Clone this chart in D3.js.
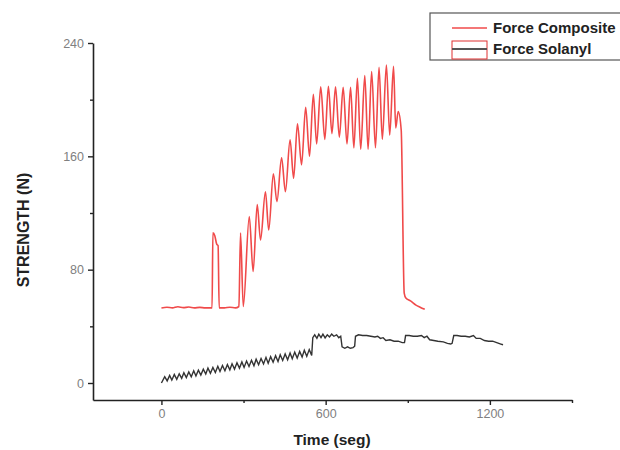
<!DOCTYPE html>
<html>
<head>
<meta charset="utf-8">
<script src="https://cdn.jsdelivr.net/npm/d3@7"></script>
<style>
  body { margin: 0; background: #fff; }
  svg { display: block; font-family: "Liberation Sans", Arial, sans-serif; }
</style>
</head>
<body>
<div id="chart"></div>
<script>
// Force Composite (time s, force N)
const compositeTime = [0, 20, 40, 60, 80, 100, 120, 140, 160, 185, 188, 195, 202, 207, 211, 230, 250, 270, 283,
  289, 299, 321, 335, 350, 362, 380, 392, 409, 422, 439, 453, 470, 483, 497, 512, 527, 541, 555, 567,
  582, 597, 610, 623, 636, 650, 664, 678, 691, 703, 716, 728, 743, 755, 768, 782, 795, 807, 822, 834,
  848, 856, 865, 876, 887, 893, 910, 930, 945, 962];
const compositeForce = [53, 53.5, 53, 53.8, 53.2, 53.6, 53, 53.4, 53, 53, 106, 104, 98, 97, 53, 53, 53.5, 53, 54,
  105.8, 54, 117.5, 78.7, 126, 101, 135, 108, 147.6, 128, 159, 135, 171.6, 144.5, 183, 154, 194.6, 160, 203.8, 168.8,
  209, 172, 209.5, 176, 209, 173.5, 208.7, 168.8, 208.7, 166, 215, 165, 217, 165, 219.8, 166, 222.8, 172, 224.5, 175,
  223.5, 180, 191.6, 178.6, 63.5, 60, 58, 55, 53.5, 52];

// Force Solanyl (time s, force N)
const solanylTime = [0, 12, 21, 30, 38, 47, 56, 65, 74, 82, 91, 100, 109, 118, 126, 135, 144, 153, 162, 170, 179,
  188, 197, 206, 214, 223, 232, 241, 250, 258, 267, 276, 285, 294, 302, 311, 320, 329, 338, 346, 355,
  364, 373, 382, 390, 399, 408, 417, 426, 434, 443, 452, 461, 470, 478, 487, 496, 505, 514, 522, 531,
  540, 549, 553, 560, 568, 575, 583, 590, 598, 606, 614, 622, 630, 640, 648, 655, 660, 670, 680, 690,
  700, 706, 709, 720, 735, 750, 765, 780, 790, 800, 810, 820, 835, 850, 865, 880, 888, 892, 905, 920,
  935, 950, 960, 970, 980, 995, 1010, 1030, 1045, 1057, 1062, 1068, 1080, 1095, 1110, 1125, 1140, 1150,
  1165, 1180, 1195, 1210, 1225, 1240, 1248];
const solanylForce = [0, 4.5, 1.5, 5.3, 2.0, 6.0, 2.6, 6.5, 3.3, 7.3, 3.8, 7.8, 4.4, 8.6, 5.0, 9.1, 5.6, 9.8, 6.3, 10.5, 6.9,
  11.0, 7.4, 11.8, 8.1, 12.3, 8.6, 13.0, 9.3, 13.6, 9.8, 14.3, 10.5, 14.9, 11.0, 15.5, 11.7, 16.1, 12.2, 16.8, 12.9,
  17.3, 13.5, 18.1, 14.0, 18.6, 14.7, 19.3, 15.2, 19.9, 15.9, 20.5, 16.4, 21.2, 17.1, 21.8, 17.6, 22.3, 18.3, 23.1, 18.8,
  23.6, 19.5, 32, 34, 31.5, 34.5, 32, 34.5, 31.8, 34, 32.5, 34.5, 33, 34, 32, 33, 25.5, 24.5, 25.5, 24.5,
  25, 26, 33, 34, 33.5, 33.5, 33, 32.5, 33, 31.5, 32, 30, 30.5, 29.5, 29.5, 28.5, 28.5, 33.5, 33.5, 33,
  33, 33.5, 32, 33, 30.5, 30, 29.5, 29, 28, 27.5, 28, 33.5, 33.5, 33, 33, 32.5, 33.5, 31.5,
  31.5, 30, 29.5, 29.5, 28.5, 27.5, 27];

const xMajor = [0, 600, 1200];
const xMinor = [300, 900, 1500];
const yMajor = [0, 80, 160, 240];
const yMinor = [40, 120, 200];
const seriesNames = ["Force Composite", "Force Solanyl"];

const width = 620, height = 450;
const svg = d3.select("#chart").append("svg")
  .attr("width", width)
  .attr("height", height);

const x = d3.scaleLinear().domain([-250, 1500]).range([93, 572]);
const y = d3.scaleLinear().domain([-12, 240]).range([400, 43]);

// axes
svg.append("g").attr("transform", "translate(93,0)")
  .call(d3.axisLeft(y).tickValues(yMajor).tickSize(5).tickSizeOuter(0).tickPadding(4).tickFormat(d3.format("d")));
svg.append("g").attr("transform", "translate(93,0)")
  .call(d3.axisLeft(y).tickValues(yMinor).tickSize(3).tickFormat(""))
  .select(".domain").remove();

svg.append("g").attr("transform", "translate(0,400)")
  .call(d3.axisBottom(x).tickValues(xMajor).tickSize(5).tickSizeOuter(0).tickPadding(4).tickFormat(d3.format("d")));
svg.append("g").attr("transform", "translate(0,400)")
  .call(d3.axisBottom(x).tickValues(xMinor).tickSize(3).tickFormat(""))
  .select(".domain").remove();

svg.selectAll(".domain").attr("stroke", "#222").attr("stroke-width", 1.6);
svg.selectAll(".tick line").attr("stroke", "#222").attr("stroke-width", 1.4);
svg.selectAll(".tick text").attr("fill", "#808080").style("font-size", "12.5px");

// axis titles
svg.append("text")
  .attr("transform", "translate(29,230) rotate(-90)")
  .attr("text-anchor", "middle")
  .style("font-size", "16px").style("font-weight", "bold").attr("fill", "#222")
  .text("STRENGTH (N)");
svg.append("text")
  .attr("x", 332).attr("y", 445)
  .attr("text-anchor", "middle")
  .style("font-size", "15.5px").style("font-weight", "bold").attr("fill", "#222")
  .text("Time (seg)");

// lines
const line = d3.line().x(d => x(d[0])).y(d => y(d[1]));
const smooth = d3.line().curve(d3.curveMonotoneX).x(d => x(d[0])).y(d => y(d[1]));
const composite = compositeTime.map((t, i) => [t, compositeForce[i]]);
const solanyl = solanylTime.map((t, i) => [t, solanylForce[i]]);

svg.append("path").datum(solanyl)
  .attr("fill", "none").attr("stroke", "#333").attr("stroke-width", 1.4)
  .attr("d", line);
svg.append("path").datum(composite)
  .attr("fill", "none").attr("stroke", "#f04a4a").attr("stroke-width", 1.6)
  .attr("d", smooth);

// legend
const lg = svg.append("g");
lg.append("rect").attr("x", 430).attr("y", 13).attr("width", 200).attr("height", 47)
  .attr("fill", "#fff").attr("stroke", "#555").attr("stroke-width", 1.2);
lg.append("line").attr("x1", 452).attr("x2", 487).attr("y1", 28).attr("y2", 28)
  .attr("stroke", "#f04a4a").attr("stroke-width", 1.4);
lg.append("rect").attr("x", 452).attr("y", 41).attr("width", 35).attr("height", 18)
  .attr("fill", "none").attr("stroke", "#e03030").attr("stroke-width", 1);
lg.append("line").attr("x1", 452).attr("x2", 487).attr("y1", 49).attr("y2", 49)
  .attr("stroke", "#555").attr("stroke-width", 1.8);
lg.selectAll("text.lab").data(seriesNames).enter().append("text")
  .attr("class", "lab")
  .attr("x", 493).attr("y", (d, i) => 33 + i * 21)
  .style("font-size", "15px").style("font-weight", "bold").attr("fill", "#222")
  .text(d => d);
</script>
</body>
</html>
